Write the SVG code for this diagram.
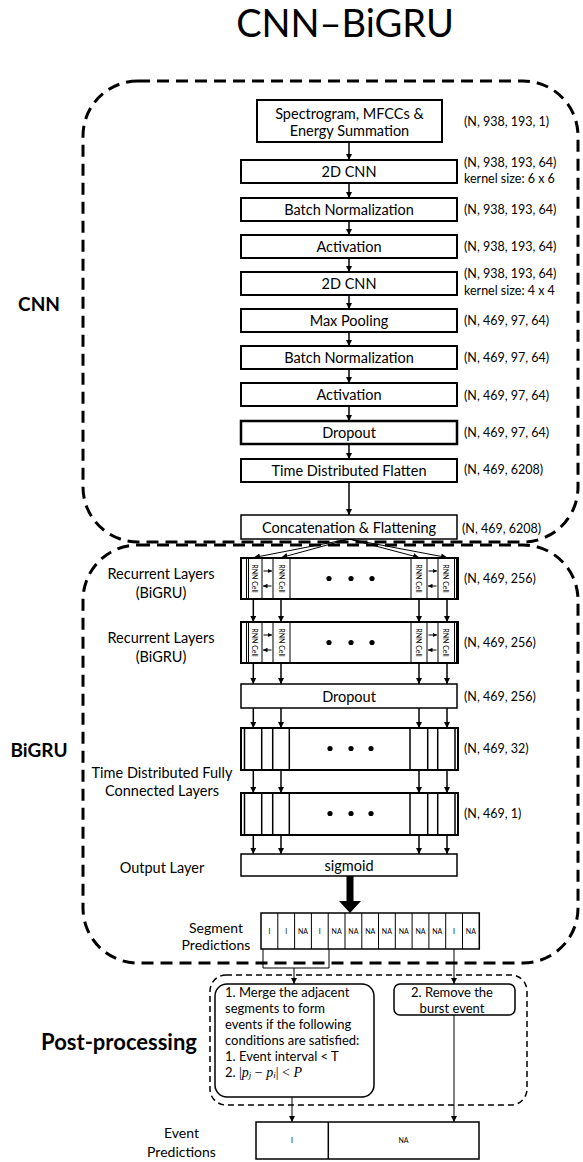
<svg xmlns="http://www.w3.org/2000/svg" width="583" height="1162" viewBox="0 0 583 1162">
<style>
text { font-family: Lato, "Liberation Sans", sans-serif; fill:#000; }
.box { fill:#fff; stroke:#000; stroke-width:2; }
.tb { fill:#fff; stroke:#000; stroke-width:1.5; }
.lbl { font-size:14.5px; text-anchor:middle; dominant-baseline:central; }
.ann { font-size:12.5px; dominant-baseline:central; }
.side { font-size:14.5px; text-anchor:middle; dominant-baseline:central; }
.bold { font-weight:bold; font-size:19px; dominant-baseline:central; }
.region { fill:none; stroke:#000; stroke-width:3; stroke-dasharray:12 7; }
.pp { fill:none; stroke:#000; stroke-width:1.5; stroke-dasharray:6 4; }
.arr { stroke:#000; stroke-width:1.5; fill:none; marker-end:url(#ah); }
.arrt { stroke:#000; stroke-width:1; fill:none; marker-end:url(#ah); }
.arrs { stroke:#000; stroke-width:1; fill:none; marker-end:url(#ahs); }
.cell { font-size:7px; text-anchor:middle; dominant-baseline:central; }
.ln { stroke:#000; stroke-width:1.5; fill:none; }
.ln1 { stroke:#000; stroke-width:1; fill:none; }
.pt { font-size:13px; dominant-baseline:central; }
.ev { font-size:14px; dominant-baseline:central; text-anchor:middle; }
</style>
<defs>
<marker id="ah" viewBox="0 0 8 8" refX="8" refY="4" markerWidth="6" markerHeight="6" markerUnits="userSpaceOnUse" orient="auto"><path d="M0,0 L8,4 L0,8 z" fill="#000"/></marker>
<marker id="ahs" viewBox="0 0 8 8" refX="8" refY="4" markerWidth="4.5" markerHeight="4.5" markerUnits="userSpaceOnUse" orient="auto"><path d="M0,0 L8,4 L0,8 z" fill="#000"/></marker>
<g id="rnnLayer">
<rect class="box" x="241" y="0" width="217" height="41"/>
<path class="ln1" d="M246.5,0V41M248.5,0V41M262,0V41M273,0V41M290,0V41M411,0V41M427,0V41M438,0V41M454.5,0V41M456.5,0V41"/>
<text class="cell" transform="translate(255.3,20.5) rotate(90)">RNN Cell</text>
<text class="cell" transform="translate(281.5,20.5) rotate(90)">RNN Cell</text>
<text class="cell" transform="translate(419,20.5) rotate(90)">RNN Cell</text>
<text class="cell" transform="translate(446.3,20.5) rotate(90)">RNN Cell</text>
<path class="arrs" d="M263.5,13H272"/><path class="arrs" d="M271.5,28H263"/>
<path class="arrs" d="M428.5,13H437"/><path class="arrs" d="M436.5,28H428"/>
<circle cx="329" cy="20.5" r="2.6"/><circle cx="351" cy="20.5" r="2.6"/><circle cx="372" cy="20.5" r="2.6"/>
</g>
<g id="fcLayer">
<rect class="box" x="241" y="0" width="217" height="42"/>
<path class="ln" d="M244.5,0V42M261.7,0V42M272.7,0V42M289.3,0V42M410,0V42M427.7,0V42M437.7,0V42M455,0V42"/>
<circle cx="330" cy="20.5" r="2.6"/><circle cx="351" cy="20.5" r="2.6"/><circle cx="371" cy="20.5" r="2.6"/>
</g>
</defs>
<rect width="583" height="1162" fill="#fff"/>

<text x="345" y="37" style="font-size:38px" text-anchor="middle">CNN–BiGRU</text>

<g id="regions">
<rect class="region" x="83" y="81" width="495" height="461" rx="55"/>
<rect class="region" x="83" y="545" width="495" height="418" rx="55"/>
<rect class="pp" x="210" y="975" width="317" height="130" rx="16"/>
</g>

<g id="section-labels">
<text class="bold" x="39" y="303" text-anchor="middle">CNN</text>
<text class="bold" x="39" y="749" text-anchor="middle">BiGRU</text>
<text class="bold" x="197" y="1041" text-anchor="end" style="font-size:22px">Post-processing</text>
</g>

<g id="connectors">
<path class="arr" d="M349,142V160"/>
<path class="arr" d="M349,183V198"/>
<path class="arr" d="M349,221V235"/>
<path class="arr" d="M349,258V272"/>
<path class="arr" d="M349,295V309"/>
<path class="arr" d="M349,332V346"/>
<path class="arr" d="M349,369V383"/>
<path class="arr" d="M349,406V421"/>
<path class="arr" d="M349,444V459"/>
<path class="arr" d="M349,482V515"/>
<path class="arrt" d="M349,539L254,557.5"/>
<path class="arrt" d="M349,539L281.5,557.5"/>
<path class="arrt" d="M349,539L419,557.5"/>
<path class="arrt" d="M349,539L447,557.5"/>
<path class="arr" d="M253.3,599V622"/><path class="arr" d="M281,599V622"/><path class="arr" d="M419,599V622"/><path class="arr" d="M447,599V622"/>
<path class="arr" d="M253.3,663V684"/><path class="arr" d="M281,663V684"/><path class="arr" d="M419,663V684"/><path class="arr" d="M447,663V684"/>
<path class="arr" d="M253.3,708V728"/><path class="arr" d="M281,708V728"/><path class="arr" d="M419,708V728"/><path class="arr" d="M447,708V728"/>
<path class="arr" d="M253.3,770V793"/><path class="arr" d="M281,770V793"/><path class="arr" d="M419,770V793"/><path class="arr" d="M447,770V793"/>
<path class="arr" d="M253.3,835V854"/><path class="arr" d="M281,835V854"/><path class="arr" d="M419,835V854"/><path class="arr" d="M447,835V854"/>
<polygon points="346.5,876 353.5,876 353.5,901 361,901 350,913 339,901 346.5,901" fill="#000"/>
<path class="ln1" d="M263,949V968H329V949"/>
<path class="arrt" d="M294,968V984"/>
<path class="arrt" d="M454,949V984"/>
<path class="arrt" d="M292,1097V1122"/>
<path class="arrt" d="M454,1015V1122"/>
</g>

<g id="n-input">
<rect class="box" x="257" y="100" width="185" height="42"/>
<text class="lbl" x="349.5" y="113.5">Spectrogram, MFCCs &amp;</text>
<text class="lbl" x="349.5" y="130">Energy Summation</text>
<text class="ann" x="464" y="121">(N, 938, 193, 1)</text>
</g>
<g id="n-cnn1">
<rect class="box" x="241" y="160" width="216" height="23"/>
<text class="lbl" x="349" y="171.5">2D CNN</text>
<text class="ann" x="464" y="162">(N, 938, 193, 64)</text>
<text class="ann" x="464" y="178">kernel size: 6 x 6</text>
</g>
<g id="n-bn1">
<rect class="box" x="241" y="198" width="216" height="23"/>
<text class="lbl" x="349" y="209.5">Batch Normalization</text>
<text class="ann" x="464" y="209">(N, 938, 193, 64)</text>
</g>
<g id="n-act1">
<rect class="box" x="241" y="235" width="216" height="23"/>
<text class="lbl" x="349" y="246.5">Activation</text>
<text class="ann" x="464" y="246">(N, 938, 193, 64)</text>
</g>
<g id="n-cnn2">
<rect class="box" x="241" y="272" width="216" height="23"/>
<text class="lbl" x="349" y="283.5">2D CNN</text>
<text class="ann" x="464" y="273.5">(N, 938, 193, 64)</text>
<text class="ann" x="464" y="290">kernel size: 4 x 4</text>
</g>
<g id="n-pool">
<rect class="box" x="241" y="309" width="216" height="23"/>
<text class="lbl" x="349" y="320.5">Max Pooling</text>
<text class="ann" x="464" y="320">(N, 469, 97, 64)</text>
</g>
<g id="n-bn2">
<rect class="box" x="241" y="346" width="216" height="23"/>
<text class="lbl" x="349" y="357.5">Batch Normalization</text>
<text class="ann" x="464" y="357">(N, 469, 97, 64)</text>
</g>
<g id="n-act2">
<rect class="box" x="241" y="383" width="216" height="23"/>
<text class="lbl" x="349" y="394.5">Activation</text>
<text class="ann" x="464" y="395">(N, 469, 97, 64)</text>
</g>
<g id="n-drop1">
<rect class="box" x="241" y="421" width="216" height="23" style="stroke-width:2.5"/>
<text class="lbl" x="349" y="432.5">Dropout</text>
<text class="ann" x="464" y="432">(N, 469, 97, 64)</text>
</g>
<g id="n-tdf">
<rect class="box" x="241" y="459" width="216" height="23"/>
<text class="lbl" x="349" y="470.5">Time Distributed Flatten</text>
<text class="ann" x="464" y="469">(N, 469, 6208)</text>
</g>
<g id="n-concat">
<rect class="tb" x="241" y="515" width="216" height="24"/>
<text class="lbl" x="349" y="527">Concatenation &amp; Flattening</text>
<text class="ann" x="462" y="528">(N, 469, 6208)</text>
</g>

<g id="n-rnn1">
<use href="#rnnLayer" transform="translate(0,558)"/>
<text class="side" x="161" y="573">Recurrent Layers</text>
<text class="side" x="161" y="592">(BiGRU)</text>
<text class="ann" x="464" y="578">(N, 469, 256)</text>
</g>
<g id="n-rnn2">
<use href="#rnnLayer" transform="translate(0,622)"/>
<text class="side" x="161" y="637">Recurrent Layers</text>
<text class="side" x="161" y="656">(BiGRU)</text>
<text class="ann" x="464" y="642">(N, 469, 256)</text>
</g>
<g id="n-drop2">
<rect class="tb" x="241" y="684" width="216" height="24"/>
<text class="lbl" x="349" y="696">Dropout</text>
<text class="ann" x="464" y="696">(N, 469, 256)</text>
</g>
<g id="n-fc1">
<use href="#fcLayer" transform="translate(0,728)"/>
<text class="ann" x="464" y="748">(N, 469, 32)</text>
</g>
<g id="n-fc2">
<use href="#fcLayer" transform="translate(0,793)"/>
<text class="ann" x="464" y="813">(N, 469, 1)</text>
<text class="side" x="162" y="772">Time Distributed Fully</text>
<text class="side" x="162" y="790">Connected Layers</text>
</g>
<g id="n-out">
<rect class="tb" x="241" y="854" width="216" height="22"/>
<text class="lbl" x="349" y="865">sigmoid</text>
<text class="side" x="162" y="867">Output Layer</text>
</g>

<g id="n-seg">
<rect class="tb" x="261" y="913" width="218.3" height="36"/>
<path class="ln1" d="M277.8,913V949M294.6,913V949M311.4,913V949M328.2,913V949M345,913V949M361.8,913V949M378.5,913V949M395.3,913V949M412.1,913V949M428.9,913V949M445.7,913V949M462.5,913V949"/>
<text class="cell" x="269.4" y="931">I</text>
<text class="cell" x="286.2" y="931">I</text>
<text class="cell" x="303" y="931">NA</text>
<text class="cell" x="319.8" y="931">I</text>
<text class="cell" x="336.6" y="931">NA</text>
<text class="cell" x="353.4" y="931">NA</text>
<text class="cell" x="370.2" y="931">NA</text>
<text class="cell" x="386.9" y="931">NA</text>
<text class="cell" x="403.7" y="931">NA</text>
<text class="cell" x="420.5" y="931">NA</text>
<text class="cell" x="437.3" y="931">NA</text>
<text class="cell" x="454.1" y="931">I</text>
<text class="cell" x="470.9" y="931">NA</text>
<text class="ev" x="216" y="927">Segment</text>
<text class="ev" x="216" y="944">Predictions</text>
</g>

<g id="n-merge">
<rect class="tb" x="215" y="984" width="159" height="113" rx="12"/>
<text class="pt" x="225" y="992">1. Merge the adjacent</text>
<text class="pt" x="225" y="1008">segments to form</text>
<text class="pt" x="225" y="1024">events if the following</text>
<text class="pt" x="225" y="1040">conditions are satisfied:</text>
<text class="pt" x="225" y="1056">1. Event interval &lt; T</text>
<text class="pt" x="225" y="1072">2. <tspan style="font-family:'Liberation Serif', serif; font-size:14px">|<tspan font-style="italic">p</tspan><tspan font-style="italic" style="font-size:9px" dy="3">j</tspan><tspan dy="-3"> − </tspan><tspan font-style="italic">p</tspan><tspan font-style="italic" style="font-size:9px" dy="3">i</tspan><tspan dy="-3">| &lt; </tspan><tspan font-style="italic">P</tspan></tspan></text>
</g>
<g id="n-burst">
<rect class="tb" x="394" y="984" width="121" height="31" rx="6"/>
<text class="pt" x="452" y="992" text-anchor="middle">2. Remove the</text>
<text class="pt" x="452" y="1008" text-anchor="middle">burst event</text>
</g>

<g id="n-event">
<rect class="tb" x="256" y="1122" width="223" height="37"/>
<path class="ln" d="M328.3,1122V1159"/>
<text class="cell" x="292" y="1140">I</text>
<text class="cell" x="403.5" y="1140">NA</text>
<text class="ev" x="181.5" y="1132">Event</text>
<text class="ev" x="181.5" y="1151">Predictions</text>
</g>
</svg>
